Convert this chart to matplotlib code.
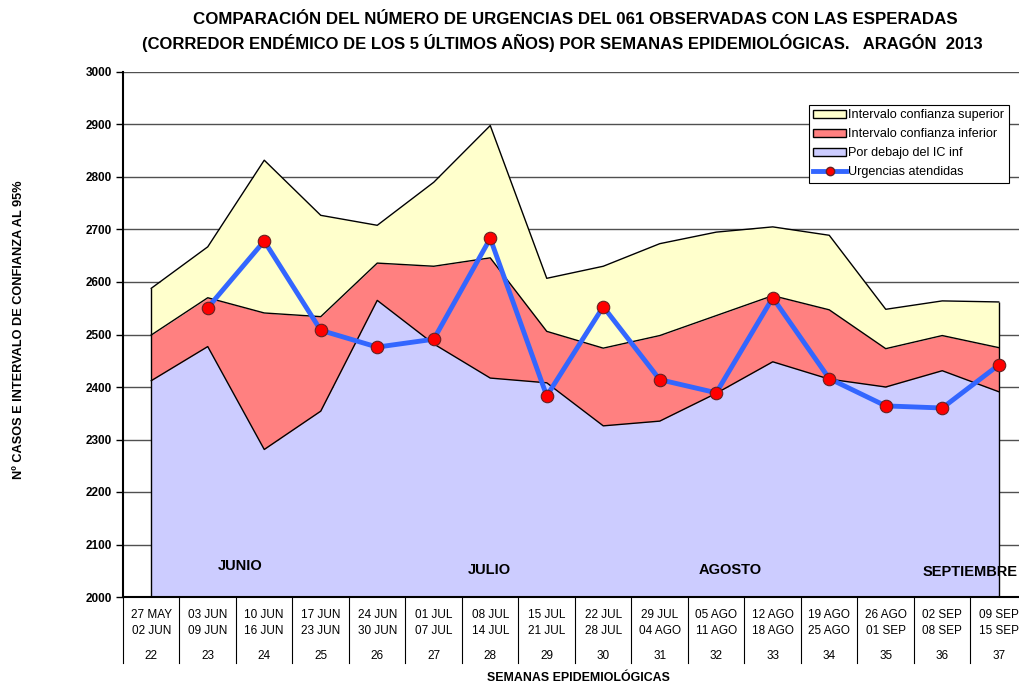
#!/usr/bin/env python3
"""Corredor endémico urgencias 061 Aragón 2013."""

import matplotlib
matplotlib.use('Agg')
import matplotlib.pyplot as plt
import matplotlib.transforms as mtransforms
from matplotlib.patches import Patch
from matplotlib.lines import Line2D
import numpy as np

plt.rcParams.update({
    'font.family': ['Liberation Sans', 'DejaVu Sans'],
    'font.size': 9,
})

# Data
semanas = [22, 23, 24, 25, 26, 27, 28, 29, 30, 31, 32, 33, 34, 35, 36, 37]
fechas = ['27 MAY\n02 JUN', '03 JUN\n09 JUN', '10 JUN\n16 JUN', '17 JUN\n23 JUN',
          '24 JUN\n30 JUN', '01 JUL\n07 JUL', '08 JUL\n14 JUL', '15 JUL\n21 JUL',
          '22 JUL\n28 JUL', '29 JUL\n04 AGO', '05 AGO\n11 AGO', '12 AGO\n18 AGO',
          '19 AGO\n25 AGO', '26 AGO\n01 SEP', '02 SEP\n08 SEP', '09 SEP\n15 SEP']
ic_sup = [2588, 2667, 2832, 2727, 2708, 2790, 2898, 2607,
          2630, 2673, 2695, 2705, 2689, 2548, 2564, 2562]
ic_inf = [2499, 2570, 2541, 2534, 2636, 2630, 2646, 2506,
          2474, 2498, 2536, 2574, 2547, 2473, 2498, 2475]
debajo = [2412, 2477, 2281, 2354, 2565, 2482, 2417, 2408,
          2326, 2335, 2388, 2448, 2415, 2400, 2431, 2391]
urgencias = [np.nan, 2551, 2678, 2508, 2476, 2491, 2683, 2383,
             2553, 2414, 2389, 2570, 2416, 2364, 2360, 2442]
meses = ['JUNIO', 'JULIO', 'AGOSTO', 'SEPTIEMBRE']
meses_x = [1.57, 5.98, 10.24, 14.49]
meses_y = [2059, 2051, 2051, 2048]

C_SUP = '#FFFFCC'
C_INF = '#FF8080'
C_DEB = '#CCCCFF'
C_LINE = '#3366FF'

x = np.arange(len(semanas))
ymin = 2000

fig = plt.figure(figsize=(10.2, 6.84), dpi=100)
# axes extends a little past the right edge of the figure, as in the original
ax = fig.add_axes([123 / 1020, 87 / 684, 904 / 1020, 525 / 684])

# areas
ax.fill_between(x, ymin, debajo, color=C_DEB, lw=0, zorder=2)
ax.fill_between(x, debajo, ic_inf, color=C_INF, lw=0, zorder=2)
ax.fill_between(x, ic_inf, ic_sup, color=C_SUP, lw=0, zorder=2)
for serie in (debajo, ic_inf, ic_sup):
    ax.plot(x, serie, color='black', lw=1, zorder=3)
ax.vlines([x[0], x[-1]], ymin, [ic_sup[0], ic_sup[-1]], color='black', lw=1, zorder=3)

# observed
ax.plot(x, urgencias, color=C_LINE, lw=3.5, zorder=4)
ax.plot(x, urgencias, ls='none', marker='o', ms=9, mfc='#FF0000',
        mec='#662222', mew=0.8, zorder=5)

# month labels
for m, mx, my in zip(meses, meses_x, meses_y):
    ax.text(mx, my, m, ha='center', va='center', fontsize=10.5,
            fontweight='bold', zorder=6)

ax.set_xlim(-0.5, len(semanas) - 0.5)
ax.set_ylim(2000, 3000)
ax.set_yticks(np.arange(2000, 3001, 100))
ax.tick_params(axis='y', direction='out', length=5, width=1,
               labelsize=8.5, pad=3)
for lab in ax.get_yticklabels():
    lab.set_fontweight('bold')
ax.set_xticks([])
ax.yaxis.grid(True, color='#505050', lw=1)
ax.set_axisbelow(True)
for s in ('top', 'right'):
    ax.spines[s].set_visible(False)
ax.spines['left'].set_linewidth(1.5)
ax.spines['bottom'].set_linewidth(1.5)

# category table below the axis
trans = mtransforms.blended_transform_factory(ax.transData, ax.transAxes)
for i in range(len(semanas) + 1):
    ax.plot([i - 0.5, i - 0.5], [0, -0.125], color='black', lw=0.8,
            transform=trans, clip_on=False)
for i, (f, s) in enumerate(zip(fechas, semanas)):
    ax.text(i, -0.0495, f, ha='center', va='center', fontsize=8.5,
            linespacing=1.45, transform=trans, clip_on=False)
    ax.text(i, -0.112, str(s), ha='center', va='center', fontsize=8.5,
            transform=trans, clip_on=False)

fig.text(578 / 1020, 1 - 678 / 684, 'SEMANAS EPIDEMIOLÓGICAS', ha='center',
         va='center', fontsize=8.9, fontweight='bold')
fig.text(19 / 1020, 1 - 330 / 684, 'Nº CASOS E INTERVALO DE CONFIANZA AL 95%',
         ha='center', va='center', rotation=90, fontsize=9.2, fontweight='bold')
fig.text(575 / 1020, 1 - 20 / 684,
         'COMPARACIÓN DEL NÚMERO DE URGENCIAS DEL 061 OBSERVADAS CON LAS ESPERADAS',
         ha='center', va='center', fontsize=12.2, fontweight='bold')
fig.text(562 / 1020, 1 - 43 / 684,
         '(CORREDOR ENDÉMICO DE LOS 5 ÚLTIMOS AÑOS) POR SEMANAS EPIDEMIOLÓGICAS.   ARAGÓN  2013',
         ha='center', va='center', fontsize=12, fontweight='bold')

handles = [
    Patch(facecolor=C_SUP, edgecolor='black', label='Intervalo confianza superior'),
    Patch(facecolor=C_INF, edgecolor='black', label='Intervalo confianza inferior'),
    Patch(facecolor=C_DEB, edgecolor='black', label='Por debajo del IC inf'),
    Line2D([0], [0], color=C_LINE, lw=3.5, marker='o', ms=6, mfc='#FF0000',
           mec='#662222', label='Urgencias atendidas'),
]
leg = fig.legend(handles=handles, loc='upper left',
                 bbox_to_anchor=(809 / 1020, 1 - 105 / 684),
                 fontsize=9.1, frameon=True, fancybox=False, framealpha=1,
                 edgecolor='black', borderpad=0.35, labelspacing=0.55,
                 handlelength=2.6, handleheight=0.55, handletextpad=0.15,
                 borderaxespad=0)
leg.get_frame().set_linewidth(0.8)
leg.set_zorder(10)

fig.savefig('out.png', dpi=100)
